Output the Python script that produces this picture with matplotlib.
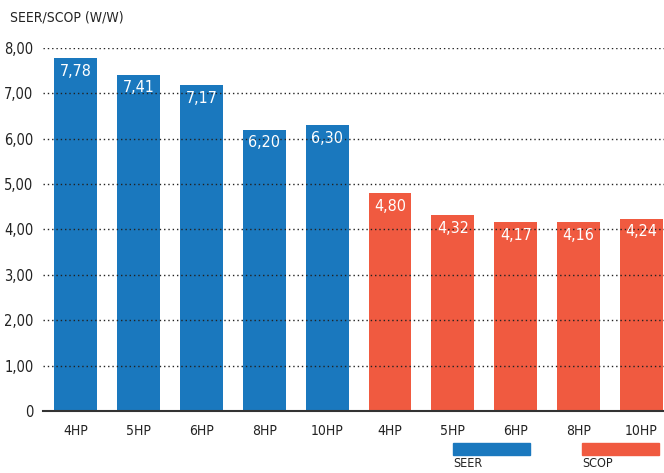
import matplotlib.pyplot as plt
from matplotlib.patches import Rectangle
import numpy as np

plt.rcParams['font.family'] = ['DejaVu Sans']
plt.rcParams['font.stretch'] = 'condensed'

models = ['4HP', '5HP', '6HP', '8HP', '10HP']
seer = [7.78, 7.41, 7.17, 6.20, 6.30]
scop = [4.80, 4.32, 4.17, 4.16, 4.24]
yticks = [0, 1, 2, 3, 4, 5, 6, 7, 8]

blue = '#1a78be'
red = '#f05a40'


def fmt(v):
    return f'{v:.2f}'.replace('.', ',')


if __name__ == '__main__':
    fig = plt.figure(figsize=(6.64, 4.73), dpi=100)
    ax = fig.add_axes([0.065, 0.131, 0.935, 0.768])

    x_seer = np.arange(len(seer))
    x_scop = np.arange(len(scop)) + len(seer)
    b1 = ax.bar(x_seer, seer, width=0.68, color=blue, zorder=1, label='SEER')
    b2 = ax.bar(x_scop, scop, width=0.68, color=red, zorder=1, label='SCOP')

    # 値ラベル
    for bars, vals in ((b1, seer), (b2, scop)):
        for r, v in zip(bars, vals):
            ax.text(r.get_x() + r.get_width() / 2, v - 0.13, fmt(v),
                    ha='center', va='top', color='white', fontsize=11.5,
                    zorder=3)

    ax.set_xlim(-0.52, 9.36)
    ax.set_ylim(0, 8)
    ax.set_xticks(np.concatenate([x_seer, x_scop]))
    ax.set_xticklabels(models + models, fontsize=10, color='#222222')
    ax.set_yticks(yticks)
    ax.set_yticklabels(['0'] + [fmt(v) for v in yticks[1:]], fontsize=10.5,
                       color='#222222')
    ax.tick_params(length=0, pad=7)
    ax.tick_params(axis='x', pad=9)

    for y in yticks[1:]:
        ax.axhline(y, color='#222222', lw=1.0, ls=(0, (1, 2.1)), zorder=2)
    for s in ['top', 'right', 'left']:
        ax.spines[s].set_visible(False)
    ax.spines['bottom'].set_color('#333333')
    ax.spines['bottom'].set_linewidth(1.5)

    fig.text(0.015, 0.962, 'SEER/SCOP (W/W)', fontsize=10, color='#222222',
             ha='left', va='center')

    # 凡例
    for x0, c, name in ((0.682, blue, 'SEER'), (0.877, red, 'SCOP')):
        fig.add_artist(Rectangle((x0, 0.038), 0.116, 0.025, color=c,
                                 transform=fig.transFigure))
        fig.text(x0, 0.006, name, fontsize=9, color='#222222',
                 ha='left', va='bottom')

    fig.savefig('out.png', dpi=100)
